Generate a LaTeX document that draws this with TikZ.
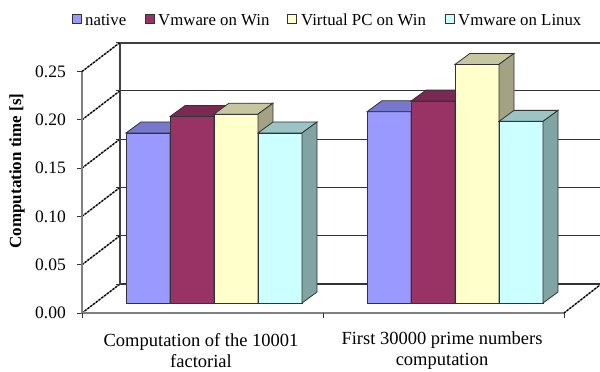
\documentclass[tikz,border=0pt]{standalone}
\usepackage{fontspec}
\setmainfont{Liberation Serif}
\definecolor{natF}{HTML}{9999FF}\definecolor{natT}{HTML}{7777CC}\definecolor{natS}{HTML}{7373BF}
\definecolor{vmwF}{HTML}{993366}\definecolor{vmwT}{HTML}{7A2952}\definecolor{vmwS}{HTML}{73264D}
\definecolor{vpcF}{HTML}{FFFFCC}\definecolor{vpcT}{HTML}{C6C6A0}\definecolor{vpcS}{HTML}{A3A383}
\definecolor{vmlF}{HTML}{CCFFFF}\definecolor{vmlT}{HTML}{9CC4C4}\definecolor{vmlS}{HTML}{80A3A3}
\definecolor{axgray}{HTML}{808080}
\definecolor{wallgray}{HTML}{404040}
\tikzset{
  baredge/.style={draw=black!80,line width=0.8pt},
  gridl/.style={draw=black!80,line width=1.2pt},
  diag/.style={draw=black,line width=1.3pt,dash pattern=on 2pt off 1.5pt},
  diagbg/.style={draw=black!45,line width=1.3pt},
  axisl/.style={draw=axgray,line width=2pt},
  tickl/.style={draw=black!80,line width=1pt},
  legbox/.style={draw=black!80,line width=0.7pt,minimum size=9pt,inner sep=0pt},
  legtxt/.style={anchor=base west,inner sep=0pt,font=\fontsize{16.8}{20}\selectfont},
  ticklab/.style={anchor=east,inner sep=0pt,font=\fontsize{17.5}{20}\selectfont},
  catlab/.style={align=center,inner sep=0pt,font=\fontsize{18.5}{21}\selectfont}
}
\newcommand\barthreed[5]{%
\begin{scope}[shift={(#1,303)}]
\pgfmathsetmacro\barh{966*#2}
\filldraw[baredge,fill=#3] (0,0) rectangle (44,-\barh);
\filldraw[baredge,fill=#4] (0,-\barh) -- (15,-\barh-11) -- (59,-\barh-11) -- (44,-\barh) -- cycle;
\filldraw[baredge,fill=#5] (44,0) -- (59,-11) -- (59,-\barh-11) -- (44,-\barh) -- cycle;
\end{scope}}
\begin{document}
\begin{tikzpicture}[x=1pt,y=-1pt]
\useasboundingbox (0,0) rectangle (600,372);
\fill[white] (0,0) rectangle (600,372);
% back wall gridlines
\foreach \k in {0,1,2,3,4}{
  \pgfmathsetmacro\yb{284-48.3*\k}
  \draw[gridl] (120,\yb) -- (600,\yb);
}
\draw[draw=wallgray,line width=2pt] (120,42.5) -- (600,42.5);
\draw[draw=wallgray,line width=1.5pt] (120,42.5) -- (120,284);
% left side wall diagonals
\foreach \k in {0,1,2,3,4,5}{
  \pgfmathsetmacro\yf{313-48.3*\k}
  \pgfmathsetmacro\yb{284-48.3*\k}
  \draw[diagbg] (82,\yf) -- (120,\yb);
  \draw[diag] (82,\yf) -- (120,\yb);
  \draw[tickl] (77,\yf) -- (82,\yf);
  \draw[tickl] (116,\yb) -- (120,\yb);
}
% front axis and floor
\draw[axisl] (82,71.5) -- (82,313) -- (564,313);
\foreach \xx in {82,323,564}{\draw[tickl] (\xx,313) -- (\xx,318);}
\draw[diagbg] (564,313) -- (600,285);
\draw[diag] (564,313) -- (600,285);
% bars, category 1
\barthreed{126}{0.176}{natF}{natT}{natS}
\barthreed{170}{0.193}{vmwF}{vmwT}{vmwS}
\barthreed{214}{0.1955}{vpcF}{vpcT}{vpcS}
\barthreed{258}{0.176}{vmlF}{vmlT}{vmlS}
% bars, category 2
\barthreed{367}{0.198}{natF}{natT}{natS}
\barthreed{411}{0.209}{vmwF}{vmwT}{vmwS}
\barthreed{455}{0.247}{vpcF}{vpcT}{vpcS}
\barthreed{499}{0.188}{vmlF}{vmlT}{vmlS}
% tick labels
\node[ticklab] (t000) at (66,313) {0.00};
\node[ticklab] (t005) at (66,264.7) {0.05};
\node[ticklab] (t010) at (66,216.4) {0.10};
\node[ticklab] (t015) at (66,168.1) {0.15};
\node[ticklab] (t020) at (66,119.8) {0.20};
\node[ticklab] (t025) at (66,71.5) {0.25};
% axis title
\node[rotate=90,inner sep=0pt,font=\fontsize{17}{20}\selectfont\bfseries] (ytitle) at (17,171) {Computation time [s]};
% category labels
\node[catlab] (cat1) at (201,351) {Computation of the 10001\\factorial};
\node[catlab] (cat2) at (442,351) {First 30000 prime numbers\\computation};
% legend
\node[legbox,fill=natF] (lb1) at (76.5,19) {};
\node[legtxt] (lt1) at (85,25) {native};
\node[legbox,fill=vmwF] (lb2) at (149.5,19) {};
\node[legtxt] (lt2) at (158,25) {Vmware on Win};
\node[legbox,fill=vpcF] (lb3) at (291.5,19) {};
\node[legtxt] (lt3) at (301,25) {Virtual PC on Win};
\node[legbox,fill=vmlF] (lb4) at (449.5,19) {};
\node[legtxt] (lt4) at (458,25) {Vmware on Linux};
\end{tikzpicture}
\end{document}
